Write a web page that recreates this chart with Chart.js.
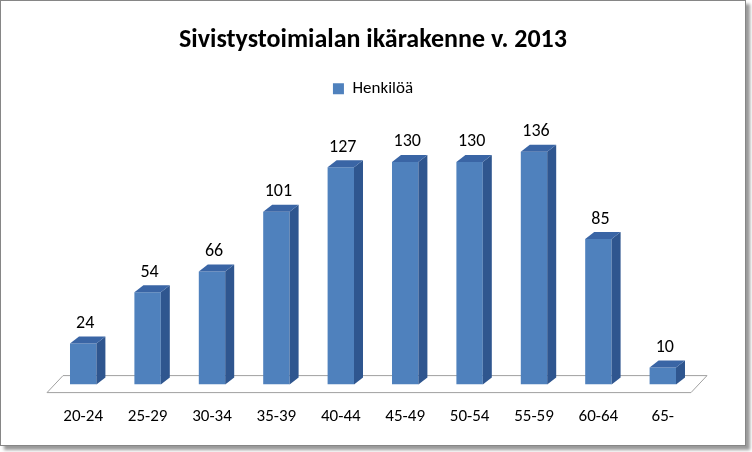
<!DOCTYPE html>
<html>
<head>
<meta charset="utf-8">
<script src="https://cdn.jsdelivr.net/npm/chart.js@4"></script>
<style>
  body { margin: 0; background: #fff; }
  #wrap { position: absolute; left: 0; top: 0; width: 744px; height: 444px;
          border: 1px solid #868686; box-shadow: 4px 4px 3px #9a9a9a; background: #fff; }
</style>
</head>
<body>
<div id="wrap"><canvas id="c" width="744" height="444"></canvas></div>
<script>
// Age groups and headcounts
const ageGroups = ["20-24", "25-29", "30-34", "35-39", "40-44", "45-49", "50-54", "55-59", "60-64", "65-"];
const headcounts = [24, 54, 66, 101, 127, 130, 130, 136, 85, 10];

const DX = 9, DY = 7;
const FONT = "Calibri, Carlito, 'Liberation Sans', sans-serif";

// Draws the floor, 3D sides and value labels around the flat bars
const bars3d = {
  id: "bars3d",
  beforeDatasetsDraw(chart) {
    const { ctx, chartArea: a } = chart;
    const y0 = chart.scales.y.getPixelForValue(0);
    ctx.save();
    ctx.beginPath();
    ctx.moveTo(a.left - 4, y0 + 8);
    ctx.lineTo(a.right - 4, y0 + 8);
    ctx.lineTo(a.right + 12, y0 - 9);
    ctx.lineTo(a.left + 12, y0 - 9);
    ctx.closePath();
    ctx.strokeStyle = "#a0a0a0";
    ctx.stroke();
    ctx.restore();
  },
  afterDatasetsDraw(chart) {
    const { ctx } = chart;
    const meta = chart.getDatasetMeta(0);
    ctx.save();
    meta.data.forEach((bar, i) => {
      const { x, y, base, width } = bar.getProps(["x", "y", "base", "width"], true);
      const l = x - width / 2, r = x + width / 2;
      // side
      ctx.fillStyle = "#2f568f";
      ctx.beginPath();
      ctx.moveTo(r, y); ctx.lineTo(r + DX, y - DY); ctx.lineTo(r + DX, base - DY); ctx.lineTo(r, base);
      ctx.closePath(); ctx.fill();
      // top
      ctx.fillStyle = "#3a65a5";
      ctx.beginPath();
      ctx.moveTo(l, y); ctx.lineTo(l + DX, y - DY); ctx.lineTo(r + DX, y - DY); ctx.lineTo(r, y);
      ctx.closePath(); ctx.fill();
      // label
      ctx.fillStyle = "#000";
      ctx.font = "18px " + FONT;
      ctx.textAlign = "center";
      ctx.textBaseline = "bottom";
      ctx.fillText(String(headcounts[i]), x + 2, y - DY - 4);
    });
    ctx.restore();
  }
};

new Chart(document.getElementById("c"), {
  type: "bar",
  data: {
    labels: ageGroups,
    datasets: [{
      label: "Henkilöä",
      data: headcounts,
      backgroundColor: "#4f81bd",
      categoryPercentage: 1,
      barPercentage: 0.41
    }]
  },
  options: {
    responsive: false,
    animation: false,
    layout: { padding: { left: 50, right: 50, top: 6, bottom: 4 } },
    plugins: {
      title: {
        display: true,
        text: "Sivistystoimialan ikärakenne v. 2013",
        color: "#000",
        font: { size: 26, weight: "bold", family: FONT },
        padding: { top: 18, bottom: 14 }
      },
      legend: {
        labels: {
          boxWidth: 11, boxHeight: 11, color: "#000",
          font: { size: 17, family: FONT }
        }
      },
      tooltip: { enabled: false }
    },
    scales: {
      x: {
        grid: { display: false }, border: { display: false },
        ticks: { color: "#000", padding: 14, font: { size: 17, family: FONT } }
      },
      y: { display: false, min: 0, max: 162 }
    }
  },
  plugins: [bars3d]
});
</script>
</body>
</html>
